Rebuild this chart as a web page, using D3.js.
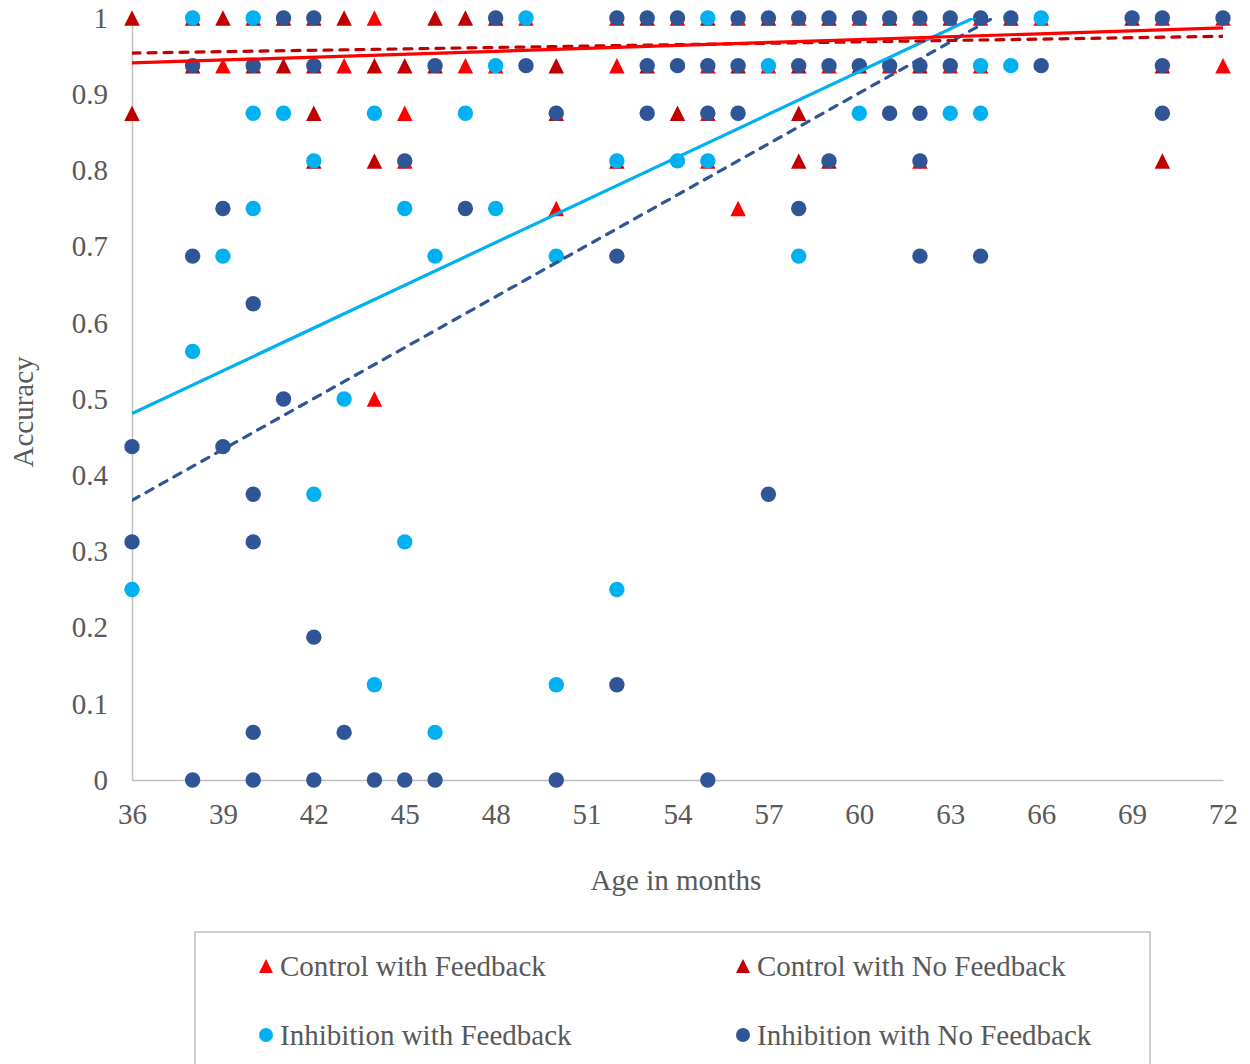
<!DOCTYPE html>
<html>
<head>
<meta charset="utf-8">
<script src="https://cdn.jsdelivr.net/npm/d3@7/dist/d3.min.js"></script>
<style>
  html, body { margin: 0; padding: 0; background: #fff; }
  svg { display: block; }
  text { font-family: "Liberation Serif", "Times New Roman", serif; fill: #595959; }
</style>
</head>
<body>
<svg id="chart" width="1250" height="1064"></svg>
<script>
// ---- Data: age in months and accuracy for each group ----
const seriesNames = ["Control with Feedback", "Control with No Feedback",
                     "Inhibition with Feedback", "Inhibition with No Feedback"];

const cfAge = [44, 49, 52, 54, 56, 58, 60, 62, 64, 66, 70, 72,
               39, 43, 47, 48, 52, 55, 57, 59, 61, 63, 64, 72,
               45, 55, 45, 55, 62, 50, 56, 44];
const cfAcc = [1, 1, 1, 1, 1, 1, 1, 1, 1, 1, 1, 1,
               0.9375, 0.9375, 0.9375, 0.9375, 0.9375, 0.9375, 0.9375, 0.9375, 0.9375, 0.9375, 0.9375, 0.9375,
               0.875, 0.875, 0.8125, 0.8125, 0.8125, 0.75, 0.75, 0.5];

const cnfAge = [36, 38, 39, 40, 41, 42, 43, 46, 47, 48, 53, 55, 57, 59, 61, 63, 65, 69,
                38, 40, 41, 42, 44, 45, 46, 50, 53, 56, 58, 60, 62, 70,
                36, 42, 50, 54, 58, 42, 44, 52, 58, 59, 70];
const cnfAcc = [1, 1, 1, 1, 1, 1, 1, 1, 1, 1, 1, 1, 1, 1, 1, 1, 1, 1,
                0.9375, 0.9375, 0.9375, 0.9375, 0.9375, 0.9375, 0.9375, 0.9375, 0.9375, 0.9375, 0.9375, 0.9375, 0.9375, 0.9375,
                0.875, 0.875, 0.875, 0.875, 0.875, 0.8125, 0.8125, 0.8125, 0.8125, 0.8125, 0.8125];

const ifAge = [38, 40, 49, 55, 66,
               48, 57, 64, 65,
               40, 41, 44, 47, 60, 63, 64,
               42, 52, 54, 55,
               40, 45, 48,
               39, 46, 50, 58,
               38, 43, 42, 45, 36, 52, 44, 50, 46];
const ifAcc = [1, 1, 1, 1, 1,
               0.9375, 0.9375, 0.9375, 0.9375,
               0.875, 0.875, 0.875, 0.875, 0.875, 0.875, 0.875,
               0.8125, 0.8125, 0.8125, 0.8125,
               0.75, 0.75, 0.75,
               0.6875, 0.6875, 0.6875, 0.6875,
               0.5625, 0.5, 0.375, 0.3125, 0.25, 0.25, 0.125, 0.125, 0.0625];

const infAge = [41, 42, 48, 52, 53, 54, 56, 57, 58, 59, 60, 61, 62, 63, 64, 65, 69, 70, 72,
                38, 40, 42, 46, 49, 53, 54, 55, 56, 58, 59, 60, 61, 62, 63, 66, 70,
                50, 53, 55, 56, 61, 62, 70,
                45, 59, 62,
                39, 47, 58,
                38, 52, 62, 64,
                40, 41, 36, 39, 40, 57, 36, 40, 42, 52, 40, 43,
                38, 40, 42, 44, 45, 46, 50, 55];
const infAcc = [1, 1, 1, 1, 1, 1, 1, 1, 1, 1, 1, 1, 1, 1, 1, 1, 1, 1, 1,
                0.9375, 0.9375, 0.9375, 0.9375, 0.9375, 0.9375, 0.9375, 0.9375, 0.9375, 0.9375, 0.9375, 0.9375, 0.9375, 0.9375, 0.9375, 0.9375, 0.9375,
                0.875, 0.875, 0.875, 0.875, 0.875, 0.875, 0.875,
                0.8125, 0.8125, 0.8125,
                0.75, 0.75, 0.75,
                0.6875, 0.6875, 0.6875, 0.6875,
                0.625, 0.5, 0.4375, 0.4375, 0.375, 0.375, 0.3125, 0.3125, 0.1875, 0.125, 0.0625, 0.0625,
                0, 0, 0, 0, 0, 0, 0, 0];

// Linear trend lines: fitted accuracy at the first and last month
const trendMonths = [36, 72];
const trendStart = [0.941, 0.954, 0.481, 0.367];
const trendEnd   = [0.987, 0.976, 1.154, 1.169];

const xTicks = [36, 39, 42, 45, 48, 51, 54, 57, 60, 63, 66, 69, 72];
const yTicks = [0, 0.1, 0.2, 0.3, 0.4, 0.5, 0.6, 0.7, 0.8, 0.9, 1];

// ---- Styling ----
const colors = ["#FF0000", "#C00000", "#00B0F0", "#2F5597"];
const shapes = ["triangle", "triangle", "circle", "circle"];
const dashes = [null, "8,8", null, "8,8"];
const axisColor = "#BFBFBF";
const fontSize = 29;

const svg = d3.select("#chart");
const x = d3.scaleLinear().domain([36, 72]).range([132, 1223]);
const y = d3.scaleLinear().domain([0, 1]).range([780, 18]);

// Triangle centred on its bounding box
const boxTriangle = {
  draw(ctx, size) {
    const h = Math.sqrt(size);
    ctx.moveTo(0, -h / 2);
    ctx.lineTo(h / 2, h / 2);
    ctx.lineTo(-h / 2, h / 2);
    ctx.closePath();
  }
};

// Axes
const yAxis = d3.axisLeft(y).tickValues(yTicks).tickSize(0).tickPadding(24)
  .tickFormat(d => d === 0 || d === 1 ? String(d) : d3.format(".1f")(d));
svg.append("g").attr("transform", `translate(${x(36)},0)`).call(yAxis)
  .call(g => g.select(".domain").attr("stroke", axisColor).attr("stroke-width", 1.5))
  .call(g => g.selectAll("text").attr("font-size", fontSize)
    .attr("font-family", "Liberation Serif").attr("fill", "#595959"));

const xAxis = d3.axisBottom(x).tickValues(xTicks).tickSize(0).tickPadding(23)
  .tickFormat(d3.format("d"));
svg.append("g").attr("transform", `translate(0,${y(0)})`).call(xAxis)
  .call(g => g.select(".domain").attr("stroke", axisColor).attr("stroke-width", 1.5))
  .call(g => g.selectAll("text").attr("font-size", fontSize)
    .attr("font-family", "Liberation Serif").attr("fill", "#595959"));

// Axis titles
svg.append("text").attr("x", 676).attr("y", 890).attr("text-anchor", "middle")
  .attr("font-size", fontSize).text("Age in months");
svg.append("text").attr("transform", "translate(33,412) rotate(-90)")
  .attr("text-anchor", "middle").attr("font-size", fontSize).text("Accuracy");

// Scatter points
const ages = [cfAge, cnfAge, ifAge, infAge];
const accs = [cfAcc, cnfAcc, ifAcc, infAcc];
const marks = svg.append("g");
ages.forEach((ageArr, s) => {
  const pts = ageArr.map((a, i) => ({ a, v: accs[s][i] }));
  const g = marks.append("g");
  if (shapes[s] === "circle") {
    g.selectAll("circle").data(pts).join("circle")
      .attr("cx", d => x(d.a)).attr("cy", d => y(d.v)).attr("r", 7.7)
      .attr("fill", colors[s]);
  } else {
    g.selectAll("path").data(pts).join("path")
      .attr("d", d3.symbol().type(boxTriangle).size(15.5 * 15.5))
      .attr("transform", d => `translate(${x(d.a)},${y(d.v)})`)
      .attr("fill", colors[s]);
  }
});

// Trend lines, clipped to the plot area
svg.append("clipPath").attr("id", "plot-clip").append("rect")
  .attr("x", x(36)).attr("y", y(1)).attr("width", x(72) - x(36)).attr("height", y(0) - y(1));
const line = d3.line().x(d => x(d[0])).y(d => y(d[1]));
const trends = svg.append("g").attr("clip-path", "url(#plot-clip)");
[2, 3, 1, 0].forEach(s => {
  trends.append("path")
    .attr("d", line([[trendMonths[0], trendStart[s]], [trendMonths[1], trendEnd[s]]]))
    .attr("fill", "none").attr("stroke", colors[s]).attr("stroke-width", 3.2)
    .attr("stroke-dasharray", dashes[s])
    .attr("stroke-linecap", dashes[s] ? "round" : "butt");
});

// Legend
const legend = svg.append("g");
legend.append("rect").attr("x", 195).attr("y", 932).attr("width", 955).attr("height", 150)
  .attr("fill", "none").attr("stroke", axisColor).attr("stroke-width", 1.5);
const legendX = [266, 743, 266, 743];
const legendY = [966, 966, 1035, 1035];
seriesNames.forEach((name, s) => {
  const g = legend.append("g").attr("transform", `translate(${legendX[s]},${legendY[s]})`);
  if (shapes[s] === "circle") {
    g.append("circle").attr("r", 7).attr("fill", colors[s]);
  } else {
    g.append("path").attr("d", d3.symbol().type(boxTriangle).size(14 * 14)())
      .attr("fill", colors[s]);
  }
  g.append("text").attr("x", 14).attr("y", 10).attr("font-size", fontSize).text(name);
});
</script>
</body>
</html>
